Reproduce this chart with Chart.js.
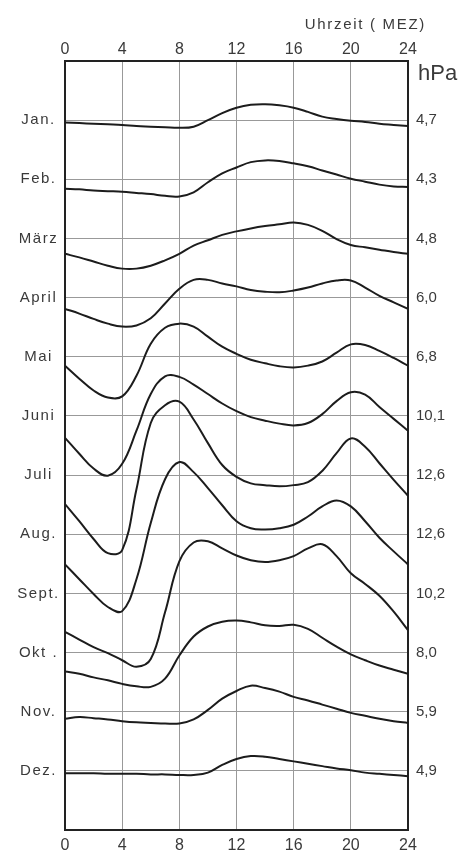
<!DOCTYPE html>
<html><head><meta charset="utf-8">
<script src="https://cdn.jsdelivr.net/npm/chart.js@4"></script>
<style>html,body{margin:0;padding:0;background:#fff}#wrap{width:460px;height:852px;position:relative}</style>
</head><body><div id="wrap"><canvas id="c" width="460" height="852"></canvas></div>
<script>
// Hours of day (MEZ)
const hours = [0,1,2,3,4,5,6,7,8,9,10,11,12,13,14,15,16,17,18,19,20,21,22,23,24];
const timeTicks = [0,4,8,12,16,20,24];
const months = ['Jan.','Feb.','März','April','Mai','Juni','Juli','Aug.','Sept.','Okt .','Nov.','Dez.'];
const meanHPa = ['4,7','4,3','4,8','6,0','6,8','10,1','12,6','12,6','10,2','8,0','5,9','4,9'];

// Relative daily course (deviation from monthly mean, relative units; 10 = row spacing)
const jan = [-0.4,-0.5,-0.6,-0.7,-0.8,-1.0,-1.1,-1.2,-1.3,-1.1,0.0,1.2,2.1,2.6,2.7,2.5,2.1,1.4,0.6,0.2,-0.1,-0.3,-0.6,-0.8,-1.0];
const feb = [-1.6,-1.7,-1.9,-2.0,-2.1,-2.3,-2.5,-2.8,-2.9,-2.2,-0.5,1.0,2.0,2.9,3.2,3.1,2.7,2.2,1.5,0.8,0.1,-0.4,-0.9,-1.2,-1.3];
const mar = [-2.6,-3.2,-3.9,-4.6,-5.1,-5.1,-4.6,-3.7,-2.6,-1.2,-0.3,0.6,1.2,1.7,2.1,2.4,2.7,2.3,1.3,-0.1,-1.1,-1.5,-1.9,-2.3,-2.6];
const apr = [-1.9,-2.7,-3.6,-4.4,-4.9,-4.7,-3.5,-1.0,1.5,3.0,3.0,2.4,1.9,1.3,1.0,0.9,1.2,1.7,2.4,2.9,2.9,1.7,0.3,-0.8,-1.9];
const mai = [-1.5,-3.7,-5.7,-6.9,-6.7,-3.2,2.2,4.9,5.6,5.1,3.4,1.7,0.5,-0.5,-1.1,-1.6,-1.8,-1.5,-0.8,0.7,2.1,2.0,1.0,-0.2,-1.5];
const jun = [-3.7,-6.4,-8.9,-10.1,-8.1,-2.5,3.7,6.7,6.6,5.3,3.7,2.1,0.8,-0.2,-0.8,-1.3,-1.6,-1.2,0.3,2.5,4.0,3.6,1.5,-0.5,-2.5];
const jul = [-4.9,-7.8,-10.8,-13.2,-12.7,-2.4,8.8,11.8,12.4,9.4,5.4,1.7,-0.3,-1.4,-1.7,-1.9,-1.7,-1.2,0.7,3.7,6.2,4.8,2.0,-0.8,-3.5];
const aug = [-5.1,-7.6,-10.1,-12.3,-13.0,-7.6,1.9,9.3,12.2,10.5,7.8,4.9,2.2,1.0,0.8,1.0,1.6,3.0,4.7,5.7,4.7,2.2,-0.6,-2.9,-5.1];
const sep = [-6.5,-7.8,-9.1,-10.1,-11.3,-12.4,-11.1,-3.2,5.4,8.6,8.8,7.6,6.4,5.6,5.3,5.6,6.3,7.6,8.3,6.3,3.4,1.6,-0.4,-3.1,-6.2];
const okt = [-3.2,-3.6,-4.2,-4.7,-5.3,-5.7,-5.8,-4.4,-0.5,2.7,4.4,5.2,5.4,5.1,4.6,4.5,4.7,4.0,2.5,1.0,-0.3,-1.3,-2.2,-2.9,-3.6];
const nov = [-1.2,-0.9,-1.1,-1.3,-1.6,-1.8,-1.9,-2.0,-2.0,-1.3,0.3,2.2,3.5,4.4,4.0,3.4,2.5,1.9,1.2,0.5,-0.2,-0.7,-1.2,-1.6,-1.9];
const dez = [-0.4,-0.4,-0.4,-0.5,-0.5,-0.5,-0.6,-0.6,-0.7,-0.7,-0.3,1.0,2.0,2.5,2.4,2.0,1.6,1.2,0.8,0.4,0.1,-0.3,-0.5,-0.7,-0.9];

const series = [jan,feb,mar,apr,mai,jun,jul,aug,sep,okt,nov,dez];
const ROW = 10;

const FONT = "'Liberation Sans', Arial, sans-serif";
const TXT = '#3a3a3a';

const datasets = series.map((s, i) => ({
  label: months[i],
  data: hours.map((h, k) => ({x: h, y: i * ROW - s[k]})),
  borderColor: '#1c1c1c',
  borderWidth: 2,
  pointRadius: 0,
  fill: false,
  tension: 0.4,
  xAxisID: 'x',
  yAxisID: 'yL'
}));

const baselineTicks = (scale) => { scale.ticks = months.map((m, i) => ({value: i * ROW})); };

const extraText = {
  id: 'extraText',
  afterLayout(chart) {
    const s = chart.scales.yL;
    if (s && !s._spaced) {
      const orig = s.drawLabels.bind(s);
      s.drawLabels = function(area) {
        const ctx = this.ctx; ctx.save(); ctx.letterSpacing = '1.5px'; orig(area); ctx.restore();
      };
      s._spaced = true;
    }
  },
  afterDraw(chart) {
    const ctx = chart.ctx, a = chart.chartArea;
    ctx.save();
    ctx.fillStyle = TXT;
    ctx.textBaseline = 'middle';
    ctx.font = '15px ' + FONT;
    ctx.letterSpacing = '1.7px';
    ctx.textAlign = 'right';
    ctx.fillText('Uhrzeit ( MEZ)', a.right + 18, 25);
    ctx.letterSpacing = '0px';
    ctx.textAlign = 'left';
    ctx.font = '22px ' + FONT;
    ctx.fillText('hPa', a.right + 10, 74);
    ctx.restore();
  }
};

new Chart(document.getElementById('c'), {
  type: 'line',
  data: {datasets},
  options: {
    responsive: false,
    animation: false,
    devicePixelRatio: 1,
    layout: {padding: 0},
    plugins: {legend: {display: false}, tooltip: {enabled: false}},
    scales: {
      x: {
        type: 'linear', position: 'bottom', min: 0, max: 24,
        afterBuildTicks: (s) => { s.ticks = timeTicks.map(v => ({value: v})); },
        ticks: {color: TXT, font: {family: FONT, size: 16}, padding: 6, maxRotation: 0, autoSkip: false},
        grid: {color: '#999', lineWidth: 1, drawTicks: false},
        border: {display: true, color: '#222', width: 2},
        afterFit: (s) => { s.height = 22; }
      },
      xTop: {
        type: 'linear', axis: 'x', position: 'top', min: 0, max: 24,
        afterBuildTicks: (s) => { s.ticks = timeTicks.map(v => ({value: v})); },
        ticks: {color: TXT, font: {family: FONT, size: 16}, padding: 2, maxRotation: 0, autoSkip: false},
        grid: {display: false, drawTicks: false},
        border: {display: true, color: '#222', width: 2},
        afterFit: (s) => { s.height = 61; }
      },
      yL: {
        type: 'linear', axis: 'y', position: 'left', reverse: true, min: -10, max: 120,
        afterBuildTicks: baselineTicks,
        ticks: {color: TXT, font: {family: FONT, size: 15}, padding: 9, crossAlign: 'center', autoSkip: false,
                callback: (v, idx) => months[idx]},
        grid: {color: '#999', lineWidth: 1, drawTicks: false},
        border: {display: true, color: '#222', width: 2},
        afterFit: (s) => { s.width = 65; }
      },
      yR: {
        type: 'linear', axis: 'y', position: 'right', reverse: true, min: -10, max: 120,
        afterBuildTicks: baselineTicks,
        ticks: {color: TXT, font: {family: FONT, size: 15}, padding: 8, autoSkip: false,
                callback: (v, idx) => meanHPa[idx]},
        grid: {display: false, drawTicks: false},
        border: {display: true, color: '#222', width: 2},
        afterFit: (s) => { s.width = 52; }
      }
    }
  },
  plugins: [extraText]
});
</script>
</body></html>
